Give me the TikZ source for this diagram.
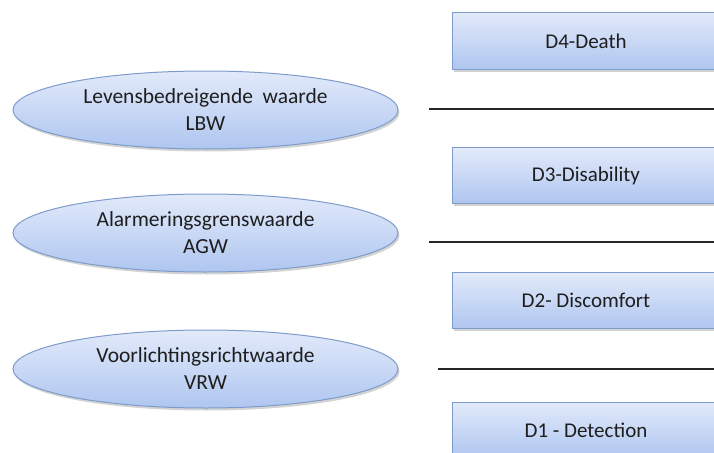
\documentclass[tikz,border=0pt]{standalone}
\usepackage{fontspec}
\setmainfont{Carlito}
\usetikzlibrary{shapes.geometric,shadows}
\definecolor{edgeblue}{HTML}{7E9CCB}
\definecolor{topblue}{HTML}{E2EAFA}
\definecolor{botblue}{HTML}{AFC6F0}
\definecolor{txt}{HTML}{1E1E1E}
\tikzset{
  shade3/.style={top color=topblue, bottom color=botblue, draw=edgeblue, line width=1pt,
    drop shadow={opacity=0.35, shadow xshift=1.5pt, shadow yshift=-2.5pt}},
  ell/.style={shade3, ellipse, minimum width=385pt, minimum height=78pt, inner sep=0pt,
    align=center, font=\fontsize{21.5}{27}\selectfont, text=txt},
  dbox/.style={shade3, rectangle, minimum width=268pt, minimum height=56pt, inner sep=0pt,
    font=\fontsize{21}{24}\selectfont, text=txt},
  sepline/.style={draw=black!85, line width=2pt}
}
\begin{document}
\begin{tikzpicture}[x=1pt,y=-1pt]
\useasboundingbox (0,0) rectangle (714,452);
\clip (0,0) rectangle (714,452);
\node[ell] (lbw) at (205.5,110) {Levensbedreigende\ \ waarde\\LBW};
\node[ell] (agw) at (205.5,233) {Alarmeringsgrenswaarde\\AGW};
\node[ell] (vrw) at (205.5,369) {Voorlichtingsrichtwaarde\\VRW};
\node[dbox] (d4) at (586,41) {D4-Death};
\node[dbox] (d3) at (586,175.5) {D3-Disability};
\node[dbox] (d2) at (586,300.5) {D2- Discomfort};
\node[dbox] (d1) at (586,430) {D1 - Detection};
\coordinate (l1a) at (429,109); \coordinate (l1b) at (714,109);
\coordinate (l2a) at (429,241.5); \coordinate (l2b) at (714,241.5);
\coordinate (l3a) at (438,368.5); \coordinate (l3b) at (714,368.5);
\draw[sepline] (l1a) -- (l1b);
\draw[sepline] (l2a) -- (l2b);
\draw[sepline] (l3a) -- (l3b);
\end{tikzpicture}
\end{document}
